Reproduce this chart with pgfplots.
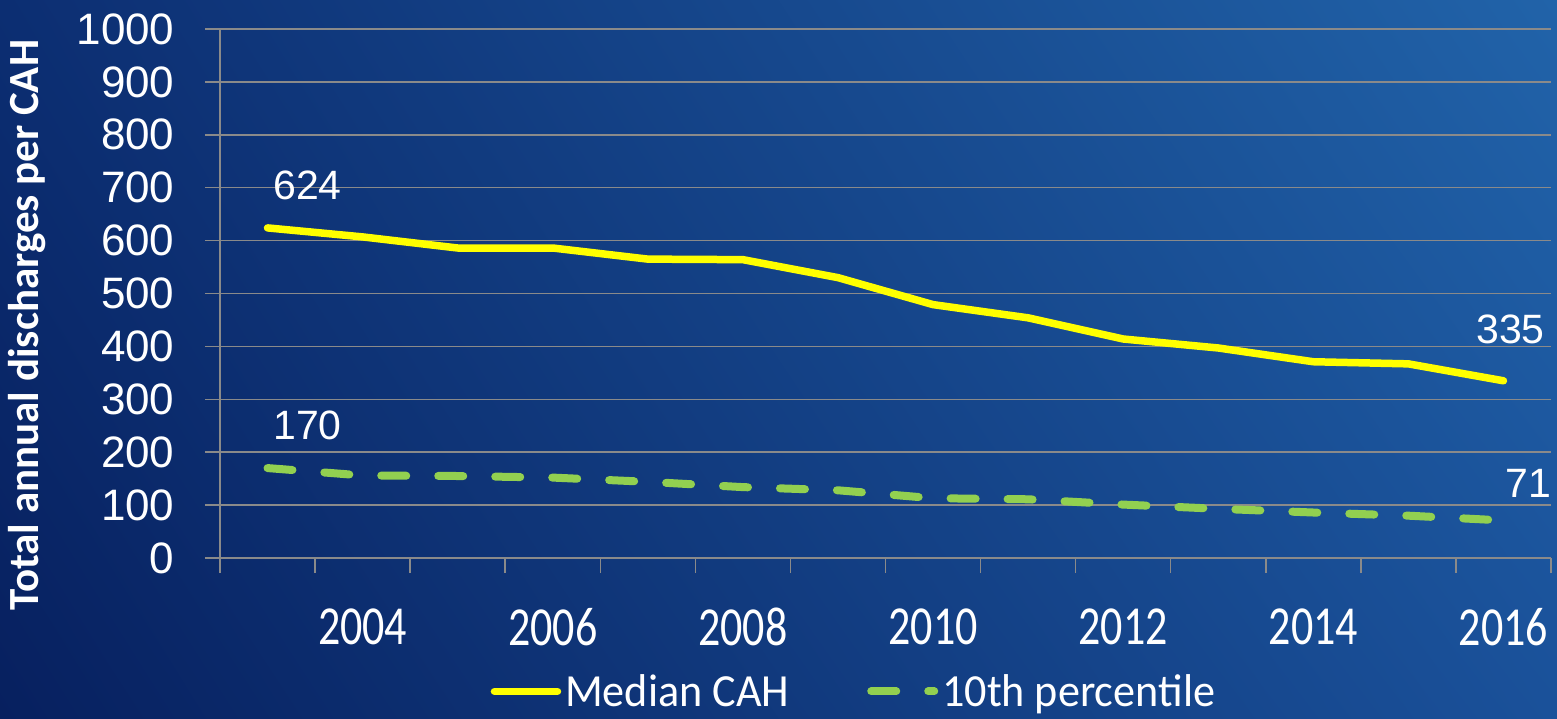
\documentclass[border=0pt]{standalone}
\usepackage{pgfplots}
\pgfplotsset{compat=1.18}
\usetikzlibrary{shadings}
\usepackage{fontspec}
\setmainfont{Liberation Sans}
\newfontfamily\xlabfont[FakeStretch=0.8]{Carlito}
\newfontfamily\legfont[FakeStretch=0.96]{Carlito}
\newfontfamily\ylabfont{Carlito}
\definecolor{bgUL}{HTML}{0C2E72}
\definecolor{bgLL}{HTML}{07205F}
\definecolor{bgUR}{HTML}{2163A9}
\definecolor{bgLR}{HTML}{1A519A}
\definecolor{medyellow}{HTML}{FFFF00}
\definecolor{pctgreen}{HTML}{92D050}
\definecolor{gridgray}{HTML}{8A8A8A}
\begin{document}
\begin{tikzpicture}
\shade[upper left=bgUL, lower left=bgLL, upper right=bgUR, lower right=bgLR] (-220pt,-160pt) rectangle (1337pt,558pt);
\begin{axis}[
  at={(0pt,0pt)}, anchor=south west,
  width=1331pt, height=529pt, scale only axis,
  xmin=0, xmax=14, ymin=0, ymax=1000,
  axis x line*=bottom, axis y line*=left,
  axis line style={draw=gridgray, line width=1.5pt, -},
  tick align=outside,
  major tick length=15pt,
  tick style={draw=gridgray, line width=1.5pt},
  xtick={0,1,...,14}, xticklabels={},
  extra x ticks={1.5,3.5,5.5,7.5,9.5,11.5,13.5},
  extra x tick labels={2004,2006,2008,2010,2012,2014,2016},
  extra x tick style={major tick length=0pt, grid=none,
    xticklabel style={anchor=center, yshift=-69pt, text=white, font=\xlabfont\fontsize{55}{55}\selectfont}},
  ytick={0,100,...,1000},
  ymajorgrids,
  grid style={draw=gridgray, line width=1.5pt},
  yticklabel style={anchor=east, xshift=-27pt, text=white, font=\fontsize{44}{44}\selectfont, /pgf/number format/1000 sep={}, /pgf/number format/assume math mode=true},
  ylabel={Total annual discharges per CAH},
  ylabel style={at={(rel axis cs:-0.145,0.44)}, anchor=center, text=white, font=\ylabfont\bfseries\fontsize{43}{43}\selectfont},
  legend columns=2,
  legend style={at={(rel axis cs:0.477,-0.252)}, anchor=center, draw=none, fill=none, text=white,
    font=\legfont\fontsize{46}{46}\selectfont, inner sep=0pt,
    /tikz/every even column/.append style={column sep=74pt},
    nodes={inner sep=4pt}},
  legend image code/.code={\draw[#1] (4pt,0pt) -- (67pt,0pt);},
  clip=false,
]
\addplot[medyellow, line width=7.5pt, line cap=round, line join=round] coordinates {
 (0.5,624) (1.5,607) (2.5,586) (3.5,586) (4.5,565) (5.5,564) (6.5,530)
 (7.5,479) (8.5,454) (9.5,414) (10.5,397) (11.5,371) (12.5,367) (13.5,335)};
\addlegendentry{Median CAH}
\addplot[pctgreen, line width=8pt, line cap=round, dash pattern=on 25pt off 32pt] coordinates {
 (0.5,170) (1.5,156) (2.5,155) (3.5,152) (4.5,144) (5.5,134) (6.5,128)
 (7.5,113) (8.5,111) (9.5,101) (10.5,93) (11.5,86) (12.5,80) (13.5,71)};
\addlegendentry{10th percentile}
\addplot[draw=none, forget plot, nodes near coords, point meta=explicit symbolic,
  every node near coord/.style={anchor=center, xshift=40pt, yshift=43pt, text=white, font=\fontsize{41}{41}\selectfont}]
  coordinates {(0.5,624) [624] (0.5,170) [170]};
\addplot[draw=none, forget plot, nodes near coords, point meta=explicit symbolic,
  every node near coord/.style={anchor=center, xshift=7pt, yshift=51pt, text=white, font=\fontsize{41}{41}\selectfont}]
  coordinates {(13.5,335) [335]};
\addplot[draw=none, forget plot, nodes near coords, point meta=explicit symbolic,
  every node near coord/.style={anchor=center, xshift=25pt, yshift=37pt, text=white, font=\fontsize{41}{41}\selectfont}]
  coordinates {(13.5,71) [71]};
\end{axis}
\pgfresetboundingbox
\path[use as bounding box] (-220pt,-160pt) rectangle (1337pt,558pt);
\end{tikzpicture}
\end{document}
